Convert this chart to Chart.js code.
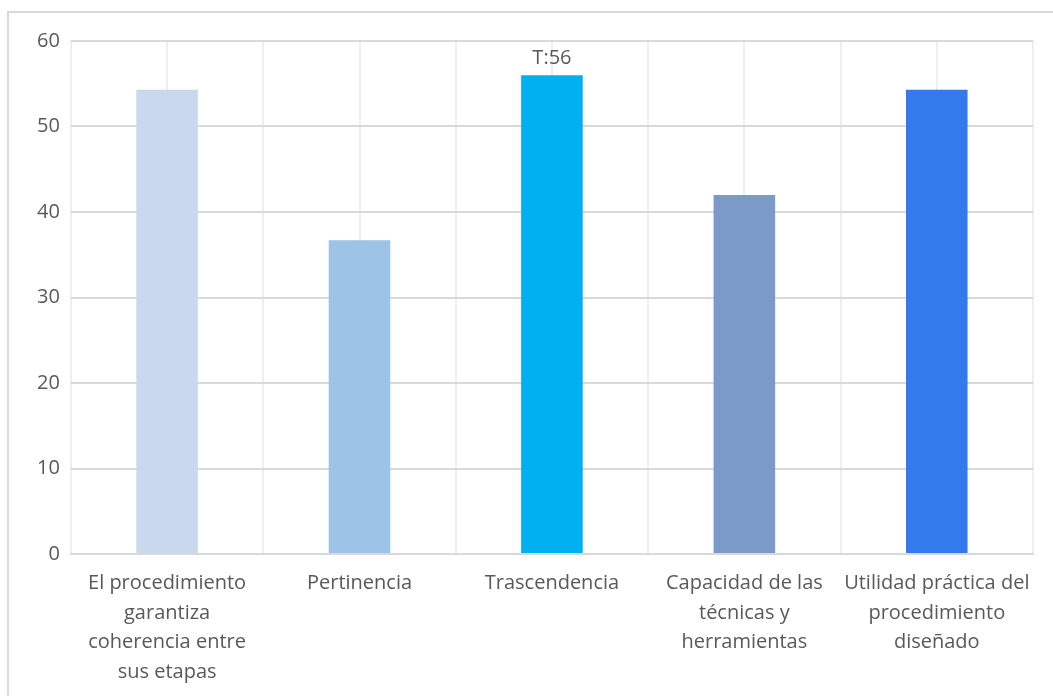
<!DOCTYPE html>
<html>
<head>
<meta charset="utf-8">
<script src="https://cdn.jsdelivr.net/npm/chart.js@4/dist/chart.umd.min.js"></script>
<style>
  html, body { margin: 0; padding: 0; background: #fff; overflow: hidden; width: 1053px; height: 696px; }
  #marco {
    position: absolute; left: 7px; top: 11px; width: 1100px; height: 720px;
    border-left: 2px solid #d9d9d9; border-top: 2px solid #d9d9d9;
  }
  #caja { position: absolute; left: 0; top: 0; width: 1053px; height: 712px; }
</style>
</head>
<body>
<div id="marco"></div>
<div id="caja"><canvas id="grafico"></canvas></div>
<script>
const categorias = [
  ["El procedimiento", "garantiza", "coherencia entre", "sus etapas"],
  ["Pertinencia"],
  ["Trascendencia"],
  ["Capacidad de las", "técnicas y", "herramientas"],
  ["Utilidad práctica del", "procedimiento", "diseñado"]
];
const valores = [54.3, 36.7, 56, 42, 54.3];
const colores = ["#c9d8ee", "#9dc3e6", "#00b0f0", "#7c9ac9", "#337bec"];
const etiquetas = ["", "", "T:56", "", ""];
const marcasY = [0, 10, 20, 30, 40, 50, 60];

const fuente = "'Open Sans', 'Noto Sans', sans-serif";
const gris = "#595959";

// texto encima de la barra
const etiquetaBarra = {
  id: "etiquetaBarra",
  afterDatasetsDraw(chart) {
    const ctx = chart.ctx;
    const meta = chart.getDatasetMeta(0);
    ctx.save();
    ctx.font = "20px " + fuente;
    ctx.fillStyle = gris;
    ctx.textAlign = "center";
    ctx.textBaseline = "bottom";
    meta.data.forEach((bar, i) => {
      if (etiquetas[i]) ctx.fillText(etiquetas[i], bar.x, bar.y - 7);
    });
    ctx.restore();
  }
};

new Chart(document.getElementById("grafico"), {
  type: "bar",
  data: {
    labels: categorias,
    datasets: [{
      data: valores,
      backgroundColor: colores,
      borderWidth: 0,
      categoryPercentage: 1,
      barPercentage: 0.32
    }]
  },
  options: {
    responsive: true,
    maintainAspectRatio: false,
    animation: false,
    layout: { padding: { left: 26, right: 20, top: 41, bottom: 10 } },
    plugins: { legend: { display: false }, tooltip: { enabled: false } },
    scales: {
      x: {
        offset: true,
        grid: { color: "#eeeeee", lineWidth: 2, offset: true, drawTicks: false },
        border: { color: "#d9d9d9", width: 2 },
        ticks: {
          color: gris, maxRotation: 0, autoSkip: false, padding: 15,
          font: { family: fuente, size: 20, lineHeight: 1.475 }
        }
      },
      x2: {
        type: "category",
        labels: categorias,
        position: "bottom",
        offset: true,
        display: true,
        grid: { color: "#eeeeee", lineWidth: 2, offset: false, drawTicks: false },
        border: { display: false },
        ticks: { display: false }
      },
      y: {
        min: 0, max: 60,
        afterBuildTicks: (axis) => { axis.ticks = marcasY.map(v => ({ value: v })); },
        grid: { color: "#d9d9d9", lineWidth: 2, drawTicks: false },
        border: { display: false },
        ticks: {
          color: gris, padding: 11,
          font: { family: fuente, size: 20 }
        }
      }
    }
  },
  plugins: [etiquetaBarra]
});
</script>
</body>
</html>
